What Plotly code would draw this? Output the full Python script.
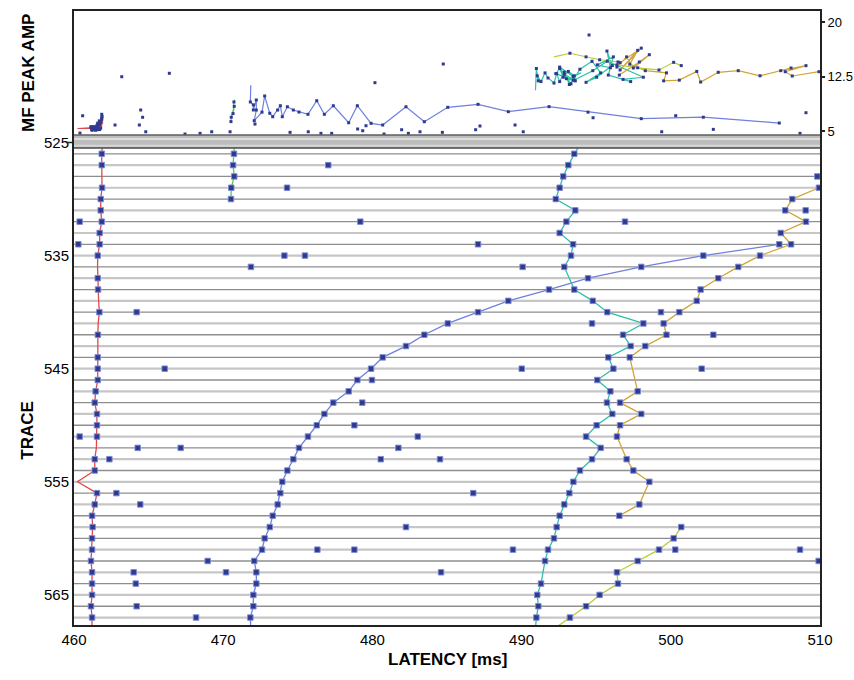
import plotly.graph_objects as go

# ---------------- data ----------------
ROWS = list(range(526, 568))          # trace rows drawn as horizontal lines

# red track (trace, latency ms, MF peak amp, picked flag)
red_trace = list(range(525, 569))
red_lat = [461.92, 461.86, 461.86, 461.85, 461.88, 461.79, 461.79, 461.86, 461.72, 461.72,
           461.59, 461.58, 461.59, 461.61, 461.65, 461.70, 461.62, 461.60, 461.60, 461.59,
           461.59, 461.59, 461.45, 461.39, 461.54, 461.54, 461.54, 461.50, 461.39, 461.39,
           460.23, 461.54, 461.39, 461.21, 461.25, 461.21, 461.21, 461.14, 461.21, 461.21,
           461.21, 461.14, 461.21, 461.20]
red_amp = [6.0, 7.3, 6.8, 5.6, 7.0, 6.2, 5.4, 6.6, 5.9, 5.2,
           6.1, 5.5, 5.3, 5.8, 5.4, 6.4, 5.7, 5.2, 5.5, 5.9,
           5.3, 5.6, 5.1, 5.4, 5.8, 5.2, 5.5, 5.3, 5.6, 5.4,
           5.35, 5.5, 5.2, 5.4, 5.6, 5.3, 5.1, 5.5, 5.3, 5.2,
           5.4, 5.6, 5.3, 5.2]
red_pick = [0, 1, 1, 0, 1, 1, 1, 1, 1, 1,
            1, 0, 1, 1, 0, 1, 0, 1, 0, 1,
            1, 1, 1, 1, 1, 1, 1, 0, 1, 1,
            0, 1, 1, 1, 1, 1, 1, 1, 1, 1,
            1, 1, 1, 0]

# green track
green_trace = [525, 526, 527, 528, 529, 530]
green_lat = [470.77, 470.72, 470.66, 470.74, 470.54, 470.52]
green_amp = [9.3, 9.0, 7.4, 8.4, 6.9, 6.3]
green_pick = [0, 1, 1, 1, 1, 1]

# blue track
blue_trace = list(range(534, 569))
blue_lat = [507.27, 502.18, 498.02, 494.45, 491.84, 489.11, 487.08, 485.05, 483.48, 482.25,
            480.69, 479.91, 478.99, 478.41, 477.38, 476.78, 476.27, 475.68, 475.08, 474.70,
            474.30, 473.96, 473.83, 473.65, 473.32, 473.12, 472.78, 472.60, 472.08, 472.22,
            472.22, 472.02, 472.02, 471.82, 471.85]
blue_amp = [6.1, 6.9, 6.7, 7.6, 8.35, 7.66, 8.67, 8.26, 6.28, 8.34,
            5.83, 6.06, 8.48, 6.14, 8.48, 7.30, 9.17, 7.30, 7.61, 7.89,
            8.34, 6.97, 8.48, 7.89, 6.97, 7.44, 9.82, 7.6, 6.42, 7.89,
            9.27, 7.9, 8.6, 9.0, 11.3]
blue_pick = [1] * 34 + [0]

# cyan track
cyan_trace = [525, 526, 527, 528, 529, 530, 531, 532, 533, 534, 535, 536,
              538, 539, 540, 541, 542, 543, 544, 545, 546, 547, 548, 549, 550,
              551, 552, 553, 554, 555, 556, 557, 558, 559, 560, 561, 562,
              564, 565, 566, 567, 568]
cyan_lat = [493.98, 493.53, 493.13, 492.79, 492.55, 492.29, 493.60, 493.00, 492.55, 493.45, 493.31, 492.86,
            493.53, 494.77, 495.74, 498.16, 496.80, 497.31, 495.81, 496.15, 495.07, 495.95, 495.72, 496.08, 495.03,
            494.32, 495.30, 494.72, 493.91, 493.47, 493.20, 492.86, 492.55, 492.35, 492.17, 491.77, 491.57,
            491.30, 491.05, 491.12, 490.99, 490.93]
cyan_amp = [13.0, 12.6, 13.2, 12.4, 13.6, 12.9, 11.9, 12.2, 13.8, 12.5, 11.5, 12.8,
            12.0, 13.3, 14.6, 12.4, 12.1, 11.8, 12.7, 15.2, 14.1, 13.7, 16.0, 14.0, 12.4,
            11.7, 13.0, 14.6, 13.5, 12.0, 11.4, 13.1, 11.8, 12.9, 11.6, 12.3, 13.0,
            11.8, 12.6, 11.9, 13.6, 10.6]
cyan_pick = [0] + [1] * 40 + [0]

# gold track
gold_trace = [528, 529, 530, 531, 532, 533, 534, 535, 536, 537, 538, 539, 540, 541, 542, 543, 544,
              547, 548, 549, 550, 551, 553, 554, 555, 557, 558]
gold_lat = [511.2, 509.93, 508.14, 507.67, 509.06, 507.37, 508.06, 505.98, 504.52, 503.18, 502.00,
            501.74, 500.57, 499.52, 499.71, 498.29, 497.25, 497.78, 496.60, 498.02, 496.60, 496.39,
            497.04, 497.49, 498.56, 497.89, 496.55]
gold_amp = [13.4, 13.16, 12.57, 13.16, 13.99, 13.3, 13.67, 12.6, 13.3, 13.08, 11.74,
            13.2, 12.0, 11.9, 13.0, 13.3, 14.2, 16.1, 13.4, 16.4, 14.4, 13.8,
            15.2, 13.67, 15.5, 14.5, 12.7]
gold_pick = [0] + [1] * 26

# yellow-green track
yg_trace = [559, 560, 561, 562, 563, 564, 565, 566, 567, 568]
yg_lat = [500.70, 500.19, 499.21, 497.78, 496.39, 496.46, 495.23, 494.32, 493.24, 492.17]
yg_amp = [14.0, 14.45, 13.4, 13.7, 14.1, 14.5, 14.8, 15.2, 15.7, 15.2]
yg_pick = [1] * 9 + [0]

# isolated picks in the trace panel
iso_trace = [527, 528, 529, 531, 532, 532, 532, 534, 534, 535, 535, 536, 536, 540, 540, 541, 542,
             545, 545, 545, 546, 548, 550, 551, 551, 552, 552, 552, 553, 553, 553, 556, 556, 557,
             559, 561, 561, 561, 561, 561, 562, 562, 563, 563, 563, 564, 566, 567]
iso_lat = [477.04, 509.82, 474.28, 509.04, 460.38, 479.19, 496.93, 460.29, 487.08, 474.10, 475.48,
           471.86, 490.07, 464.20, 499.34, 494.72, 502.85, 466.08, 490.01, 502.07, 479.97, 479.32,
           478.79, 460.38, 483.04, 464.27, 467.15, 481.74, 462.37, 480.56, 484.53, 462.84, 486.76,
           464.44, 482.25, 476.31, 478.79, 489.42, 500.30, 508.66, 468.96, 509.91, 464.00, 470.19,
           484.60, 464.14, 464.20, 468.18]

# isolated amplitude dots in the MF panel
amp_iso_lat = [460.58, 460.40, 463.20, 466.39, 462.75, 464.47, 464.60, 464.38, 464.81, 467.44,
               468.45, 469.23, 470.46, 472.13, 474.48, 480.17, 484.75, 475.70, 476.55, 477.27,
               479.01, 479.35, 479.57, 480.78, 481.96, 482.41, 483.19, 484.69, 486.92, 487.21,
               489.56, 490.11, 494.52, 499.39, 502.85, 500.33, 494.79, 509.06, 508.66]
amp_iso_val = [7.1, 4.72, 12.47, 12.94, 5.83, 7.89, 6.89, 5.83, 4.9, 4.59,
               4.68, 4.9, 4.9, 5.96, 4.82, 11.65, 14.22, 4.9, 4.68, 4.68,
               5.28, 5.04, 5.73, 4.59, 5.18, 4.68, 4.9, 4.82, 5.18, 5.69,
               5.83, 4.9, 18.21, 4.9, 5.23, 7.11, 6.83, 7.52, 4.68]

X_TICKS = [460, 470, 480, 490, 500, 510]
TRACE_TICKS = [525, 535, 545, 555, 565]
AMP_TICKS = [5, 12.5, 20]
AMP_TICK_TEXT = ["5", "12.5", "20"]

# ---------------- styling ----------------
NAVY = "#2f3a8f"
MARK_EDGE = "rgba(125,140,215,0.95)"
SANS = "Liberation Sans, Arial"

fig = go.Figure()

# row lines
shapes = []
for i, r in enumerate(ROWS):
    if i % 2 == 0:
        col, w = "#8e8e8e", 1.3
    else:
        col, w = "#c6c6c6", 2.2
    shapes.append(dict(type="line", xref="paper", x0=0, x1=1, yref="y", y0=r, y1=r,
                       line=dict(color=col, width=w), layer="below"))

tracks = [
    (red_trace, red_lat, red_amp, red_pick, "#e04a4a"),
    (green_trace, green_lat, green_amp, green_pick, "#4fd04f"),
    (blue_trace, blue_lat, blue_amp, blue_pick, "#6f80de"),
    (cyan_trace, cyan_lat, cyan_amp, cyan_pick, "#2cc2a6"),
    (gold_trace, gold_lat, gold_amp, gold_pick, "#d2a432"),
    (yg_trace, yg_lat, yg_amp, yg_pick, "#b9cc36"),
]

for tr, lat, amp, pick, col in tracks:
    fig.add_trace(go.Scatter(x=lat, y=tr, mode="lines", line=dict(color=col, width=1.3),
                             xaxis="x", yaxis="y", hoverinfo="skip", showlegend=False))
    fig.add_trace(go.Scatter(x=lat, y=amp, mode="lines", line=dict(color=col, width=1.2),
                             xaxis="x2", yaxis="y2", hoverinfo="skip", showlegend=False))

# markers of picked points
for tr, lat, amp, pick, col in tracks:
    px = [l for l, p in zip(lat, pick) if p]
    py = [t for t, p in zip(tr, pick) if p]
    pa = [a for a, p in zip(amp, pick) if p]
    fig.add_trace(go.Scatter(x=px, y=py, mode="markers", xaxis="x", yaxis="y",
                             marker=dict(symbol="square", size=5.5, color=NAVY,
                                         line=dict(color=MARK_EDGE, width=1)),
                             showlegend=False, hoverinfo="skip"))
    fig.add_trace(go.Scatter(x=px, y=pa, mode="markers", xaxis="x2", yaxis="y2",
                             marker=dict(symbol="square", size=3, color=NAVY),
                             showlegend=False, hoverinfo="skip"))

fig.add_trace(go.Scatter(x=iso_lat, y=iso_trace, mode="markers", xaxis="x", yaxis="y",
                         marker=dict(symbol="square", size=5.5, color=NAVY,
                                     line=dict(color=MARK_EDGE, width=1)),
                         showlegend=False, hoverinfo="skip"))
fig.add_trace(go.Scatter(x=amp_iso_lat, y=amp_iso_val, mode="markers", xaxis="x2", yaxis="y2",
                         marker=dict(symbol="square", size=3, color=NAVY),
                         showlegend=False, hoverinfo="skip"))

# separator band between the panels
B0, B1 = 0.7769, 0.798
shapes += [
    dict(type="rect", xref="paper", yref="paper", x0=0, x1=1, y0=B0, y1=B1,
         fillcolor="#bdbdbd", line=dict(width=0), layer="above"),
    dict(type="line", xref="paper", yref="paper", x0=0, x1=1, y0=0.7915, y1=0.7915,
         line=dict(color="#dedede", width=2), layer="above"),
    dict(type="line", xref="paper", yref="paper", x0=0, x1=1, y0=0.7805, y1=0.7805,
         line=dict(color="#d6d6d6", width=2), layer="above"),
    dict(type="line", xref="paper", yref="paper", x0=0, x1=1, y0=B1, y1=B1,
         line=dict(color="#5e5e5e", width=1.5), layer="above"),
    dict(type="line", xref="paper", yref="paper", x0=0, x1=1, y0=B0, y1=B0,
         line=dict(color="#4a4a4a", width=1.5), layer="above"),
    dict(type="line", xref="paper", yref="y", x0=-0.0107, x1=0, y0=525, y1=525,
         line=dict(color="#222", width=1.5)),
]

AX_LINE = dict(showline=True, linecolor="#222", linewidth=2, showgrid=False, zeroline=False,
               automargin=False)

fig.update_layout(
    width=854, height=680,
    margin=dict(l=74, r=34, t=11, b=55, autoexpand=False),
    paper_bgcolor="white", plot_bgcolor="white",
    showlegend=False,
    shapes=shapes,
    xaxis=dict(domain=[0, 1], anchor="y", range=[460, 510], tickvals=X_TICKS,
               ticktext=[str(v) for v in X_TICKS], ticks="", mirror=False,
               tickfont=dict(family=SANS, size=15, color="black"), **AX_LINE),
    yaxis=dict(domain=[0, B1], anchor="x", range=[567.66, 524.34], tickvals=TRACE_TICKS,
               ticktext=[str(v) for v in TRACE_TICKS], ticks="", mirror=True,
               tickfont=dict(family=SANS, size=15, color="black"), **AX_LINE),
    xaxis2=dict(domain=[0, 1], anchor="y2", range=[460, 510], showticklabels=False,
                ticks="", mirror=True, **AX_LINE),
    yaxis2=dict(domain=[B1, 1], anchor="x2", range=[4.45, 21.51], side="right",
                tickvals=AMP_TICKS, ticktext=AMP_TICK_TEXT, ticks="outside", ticklen=3,
                tickwidth=2, tickcolor="#222", mirror=True,
                tickfont=dict(family=SANS, size=13, color="black"), **AX_LINE),
    annotations=[
        dict(text="<b>MF PEAK AMP</b>", xref="paper", yref="paper", x=-0.0617, y=0.899,
             textangle=-90, showarrow=False, font=dict(family=SANS, size=17, color="black"),
             xanchor="center", yanchor="middle"),
        dict(text="<b>TRACE</b>", xref="paper", yref="paper", x=-0.0617, y=0.318,
             textangle=-90, showarrow=False, font=dict(family=SANS, size=17, color="black"),
             xanchor="center", yanchor="middle"),
        dict(text="<b>LATENCY [ms]</b>", xref="paper", yref="paper", x=0.5, y=-0.057,
             showarrow=False, font=dict(family=SANS, size=17, color="black"),
             xanchor="center", yanchor="middle"),
    ],
)

fig.write_html("out.html")
